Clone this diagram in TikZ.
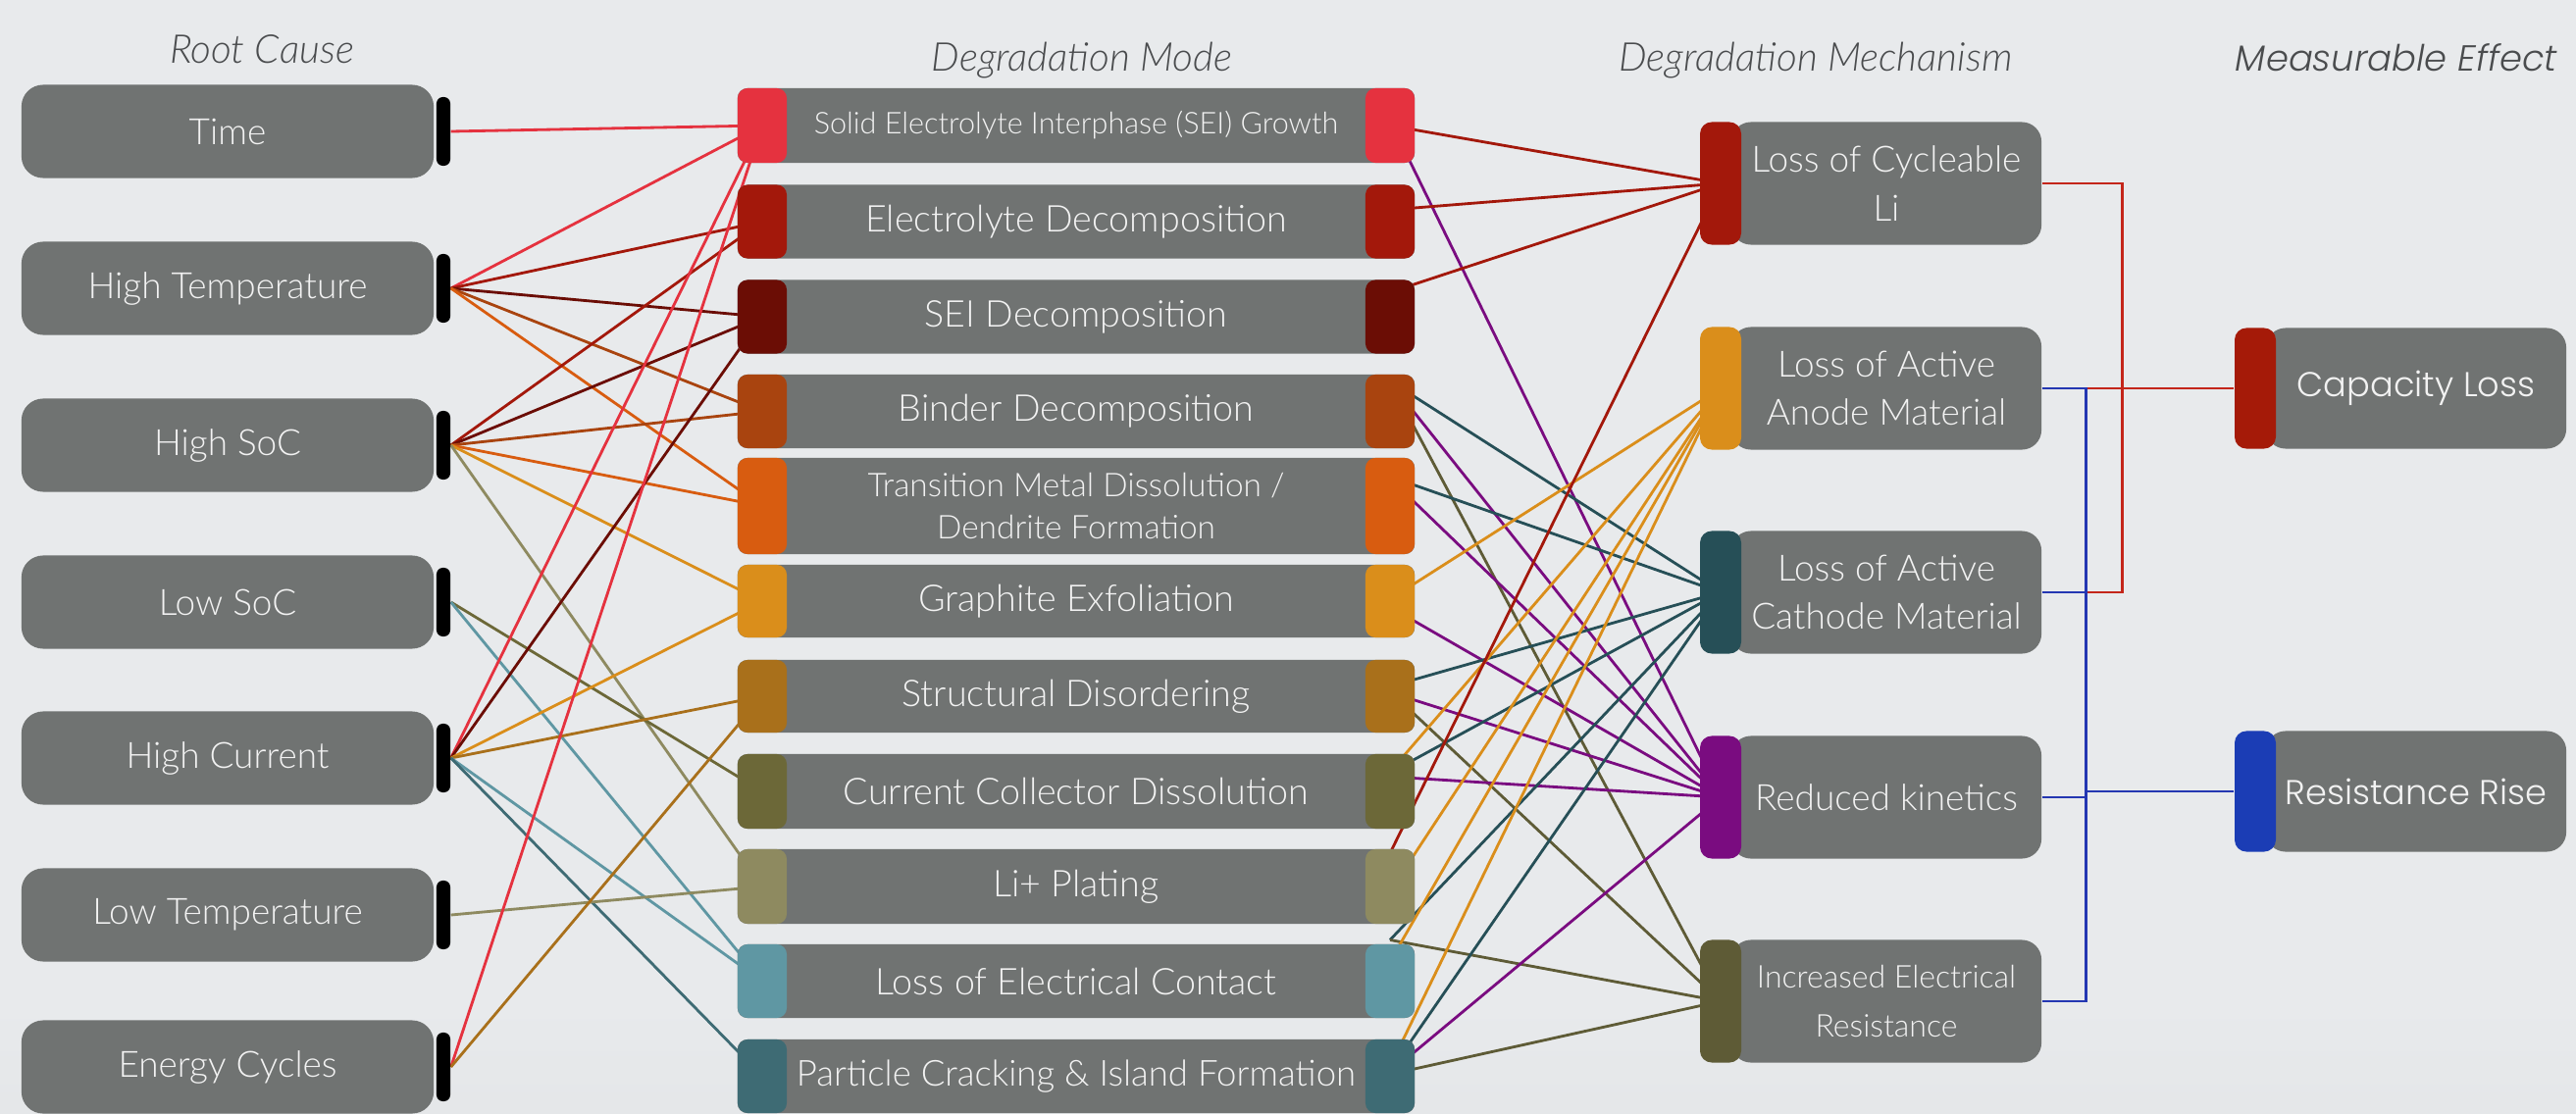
\documentclass[tikz,border=0pt]{standalone}
\usepackage{fontspec}
\IfFontExistsTF{Lato Light}
  {\setmainfont{Lato Light}[ItalicFont={Lato Light Italic}]}
  {\setmainfont{Lato}}
\IfFontExistsTF{Poppins Light}
  {\newfontfamily\fxfont{Poppins Light}[ItalicFont={Poppins Light Italic}]}
  {\newfontfamily\fxfont{Poppins}}
\usetikzlibrary{calc}
\pgfdeclarelayer{back}
\pgfdeclarelayer{lines}
\pgfsetlayers{back,lines,main}

\definecolor{bgA}{HTML}{B9BBBE}
\definecolor{bgB}{HTML}{DDDFE2}
\definecolor{bgC}{HTML}{E8EAEC}
\definecolor{bgD}{HTML}{DCDEE1}
\definecolor{bgE}{HTML}{C8CACD}
\pgfdeclareverticalshading{slidebg}{100bp}{color(0bp)=(bgA); color(14bp)=(bgB);
  color(30bp)=(bgC); color(85bp)=(bgC); color(97bp)=(bgD); color(100bp)=(bgE)}

\definecolor{boxgray}{HTML}{707372}
\definecolor{boxtext}{HTML}{F2F2F2}
\definecolor{headtext}{HTML}{4A4C4E}
% degradation modes
\definecolor{mA}{HTML}{E5323F}
\definecolor{mB}{HTML}{A3180B}
\definecolor{mC}{HTML}{6B0D05}
\definecolor{mD}{HTML}{A9440F}
\definecolor{mE}{HTML}{D85C10}
\definecolor{mF}{HTML}{DA8E1B}
\definecolor{mG}{HTML}{A9701B}
\definecolor{mH}{HTML}{6C6838}
\definecolor{mI}{HTML}{8E8A60}
\definecolor{mJ}{HTML}{5F97A3}
\definecolor{mK}{HTML}{3E6B74}
% degradation mechanisms
\definecolor{kA}{HTML}{A3180B}
\definecolor{kB}{HTML}{DA8E1B}
\definecolor{kC}{HTML}{264F57}
\definecolor{kD}{HTML}{7A0C80}
\definecolor{kE}{HTML}{5E5B36}
% measurable effects
\definecolor{eA}{HTML}{A51A08}
\definecolor{eB}{HTML}{1B3DB5}
\definecolor{wirered}{HTML}{C4261A}
\definecolor{wireblue}{HTML}{2437B2}

\tikzset{
  rootbox/.style={fill=boxgray, rounded corners=2.2mm, minimum width=4.20cm,
    minimum height=0.95cm, inner sep=0pt, text=boxtext,
    font=\fontsize{10.5}{12}\selectfont},
  rootbar/.style={fill=black, rounded corners=0.65mm, minimum width=0.14cm,
    minimum height=0.70cm, inner sep=0pt},
  modebody/.style={fill=boxgray, rounded corners=1mm, minimum width=6.90cm,
    inner sep=0pt, text=boxtext, align=center},
  modetab/.style={rounded corners=1mm, minimum width=0.50cm, inner sep=0pt},
  mechbody/.style={fill=boxgray, rounded corners=2mm, minimum width=3.16cm,
    minimum height=1.25cm, inner sep=0pt, text=boxtext, align=center},
  mechtab/.style={rounded corners=1.2mm, minimum width=0.42cm,
    minimum height=1.25cm, inner sep=0pt},
  fxbody/.style={fill=boxgray, rounded corners=2mm, minimum width=3.06cm,
    minimum height=1.23cm, inner sep=0pt, text=boxtext,
    font=\fxfont\fontsize{10}{12}\selectfont},
  fxtab/.style={rounded corners=1.2mm, minimum width=0.42cm,
    minimum height=1.23cm, inner sep=0pt},
  heading/.style={text=headtext, anchor=base, inner sep=0pt,
    font=\itshape\fontsize{11.5}{13}\selectfont},
  link/.style={line width=0.8pt},
  wire/.style={line width=0.8pt}
}

\newcommand\rootitem[3]{%
  \node[rootbox] (rb#1) at (232,#2) {#3};
  \node[rootbar] (r#1) at (452,#2) {};
}
\newcommand\modeitem[6]{%
  \node[modebody, minimum height=#3cm, font=\fontsize{#5}{12}\selectfont] (mb#1) at (1097,#2) {#6};
  \node[modetab, fill=#4, minimum height=#3cm] (ml#1) at (777,#2) {};
  \node[modetab, fill=#4, minimum height=#3cm] (mr#1) at (1417,#2) {};
}
\newcommand\mechitem[5]{%
  \node[mechbody, font=\fontsize{#4}{14}\selectfont] (kb#1) at (1923,#2) {#5};
  \node[mechtab, fill=#3] (kt#1) at (1754,#2) {};
}

\begin{document}
\begin{tikzpicture}[x=0.01cm, y=-0.01cm]
\useasboundingbox (0,0) rectangle (2626,1136);
\begin{pgfonlayer}{back}
  \shade[shading=slidebg] (0,0) rectangle (2626,1136);
\end{pgfonlayer}

% column headings
\node[heading] (h1) at (267,64) {Root Cause};
\node[heading] (h2) at (1103,72) {Degradation Mode};
\node[heading] (h3) at (1851,72) {Degradation Mechanism};
\node[heading, font=\fxfont\itshape\fontsize{10.5}{13}\selectfont] (h4) at (2443,72) {Measurable Effect};

% root causes
\rootitem{1}{134}{Time}
\rootitem{2}{294}{High Temperature}
\rootitem{3}{454}{High SoC}
\rootitem{4}{614}{Low SoC}
\rootitem{5}{773}{High Current}
\rootitem{6}{933}{Low Temperature}
\rootitem{7}{1088}{Energy Cycles}

% degradation modes
\modeitem{1}{128}{0.76}{mA}{8.7}{Solid Electrolyte Interphase (SEI) Growth}
\modeitem{2}{226}{0.75}{mB}{10.7}{Electrolyte Decomposition}
\modeitem{3}{323}{0.75}{mC}{10.7}{SEI Decomposition}
\modeitem{4}{419.5}{0.75}{mD}{10.7}{Binder Decomposition}
\modeitem{5}{516}{0.98}{mE}{9.5}{Transition Metal Dissolution /\\Dendrite Formation}
\modeitem{6}{613}{0.74}{mF}{10.7}{Graphite Exfoliation}
\modeitem{7}{710}{0.74}{mG}{10.7}{Structural Disordering}
\modeitem{8}{807}{0.76}{mH}{10.7}{Current Collector Dissolution}
\modeitem{9}{904}{0.76}{mI}{10.7}{Li+ Plating}
\modeitem{10}{1000.5}{0.75}{mJ}{10.7}{Loss of Electrical Contact}
\modeitem{11}{1097.5}{0.75}{mK}{10.4}{Particle Cracking \& Island Formation}

% degradation mechanisms
\mechitem{1}{187}{kA}{10.5}{Loss of Cycleable\\Li}
\mechitem{2}{396}{kB}{10.5}{Loss of Active\\Anode Material}
\mechitem{3}{604}{kC}{10.5}{Loss of Active\\Cathode Material}
\mechitem{4}{813}{kD}{10.5}{Reduced kinetics}
\mechitem{5}{1021}{kE}{9.1}{Increased Electrical\\Resistance}

% measurable effects
\node[fxbody] (eb1) at (2463,396) {Capacity Loss};
\node[fxtab, fill=eA] (et1) at (2299,396) {};
\node[fxbody] (eb2) at (2463,807) {Resistance Rise};
\node[fxtab, fill=eB] (et2) at (2299,807) {};

\begin{pgfonlayer}{lines}
  % root cause -> degradation mode
  \foreach \a/\b/\c in {1/1/mA, 2/1/mA, 2/2/mB, 2/3/mC, 2/4/mD, 2/5/mE,
      3/2/mB, 3/3/mC, 3/4/mD, 3/5/mE, 3/6/mF, 3/9/mI, 4/8/mH, 4/10/mJ,
      5/1/mA, 5/3/mC, 5/6/mF, 5/7/mG, 5/10/mJ, 5/11/mK, 6/9/mI, 7/1/mA, 7/7/mG}
    \draw[link, color=\c] (r\a.east) -- (ml\b.center);
  % degradation mode -> degradation mechanism
  \foreach \a/\dy/\b/\c in {1/0/1/kA, 1/-5/4/kD, 2/-12/1/kA, 3/-25/1/kA,
      4/-31/3/kC, 4/-30/4/kD, 4/-30/5/kE, 5/-30/3/kC, 5/-28/4/kD,
      6/-2/2/kB, 6/6/4/kD, 7/-10/3/kC, 7/-4/4/kD, 7/-5/5/kE,
      8/-20/2/kB, 8/-19/3/kC, 8/-15/4/kD, 9/-34/1/kA, 9/5/2/kB,
      10/-42/3/kC, 10/-42/5/kE, 10/-20/2/kB,
      11/-10/2/kB, 11/-5/3/kC, 11/-4/4/kD, 11/-2/5/kE}
    \draw[link, color=\c] ($(mr\a.center)+(0,\dy)$) -- (kt\b.center);
  % mechanism -> measurable effect
  \draw[wire, wirered] (kb1.east) -- ++(82,0) |- (kb3.east);
  \draw[wire, wirered] (kb2.east) -- (et1.west);
  \draw[wire, wireblue] (kb2.east) -- ++(45,0) |- (kb5.east);
  \draw[wire, wireblue] (kb3.east) -- ++(45,0);
  \draw[wire, wireblue] (kb4.east) -- ++(45,0);
  \draw[wire, wireblue] (et2.west) -- ++(-152,0);
\end{pgfonlayer}
\end{tikzpicture}
\end{document}
